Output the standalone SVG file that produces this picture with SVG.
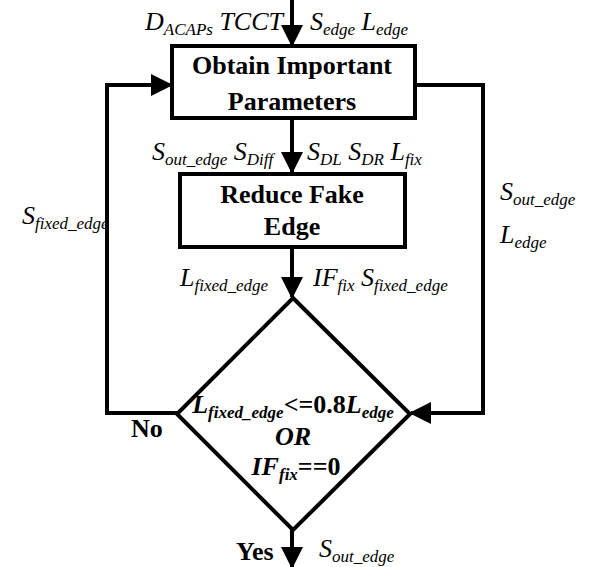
<svg xmlns="http://www.w3.org/2000/svg" width="590" height="567" viewBox="0 0 590 567" font-family="Liberation Serif, serif" style="font-family:'Liberation Serif',serif">
<style>
svg text, svg tspan{font-family:"Liberation Serif","Times New Roman",serif !important}
.ln{fill:none;stroke:#000;stroke-width:4}
.bx{fill:#fff;stroke:#000;stroke-width:4}
.it{font-style:italic;font-size:26px}
.b{font-weight:bold;font-size:26px}
.bi{font-weight:bold;font-style:italic;font-size:26px}
.s{font-size:17px}
</style>
<defs>
<marker id="ah" markerUnits="userSpaceOnUse" markerWidth="22" markerHeight="22" refX="20" refY="11" orient="auto" viewBox="0 0 22 22">
<path d="M0,0 L22,11 L0,22 z" fill="#000"/>
</marker>
</defs>
<rect width="590" height="567" fill="#fff"/>
<g id="connectors">
<line class="ln" x1="292" y1="0" x2="292" y2="45" marker-end="url(#ah)"/>
<line class="ln" x1="292" y1="118" x2="292" y2="172" marker-end="url(#ah)"/>
<line class="ln" x1="292" y1="247" x2="292" y2="297" marker-end="url(#ah)"/>
<line class="ln" x1="292" y1="530" x2="292" y2="567" marker-end="url(#ah)"/>
<polyline class="ln" points="177,413 107,413 107,85 171,85" marker-end="url(#ah)"/>
<polyline class="ln" points="415,85 483,85 483,413 411,413" marker-end="url(#ah)"/>
</g>
<g id="node-obtain">
<rect class="bx" x="172" y="46" width="243" height="72"/>
<text class="b" x="292" y="74" text-anchor="middle">Obtain Important</text>
<text class="b" x="292" y="110" text-anchor="middle">Parameters</text>
</g>
<g id="node-reduce">
<rect class="bx" x="180" y="174" width="225" height="73"/>
<text class="b" x="292" y="203" text-anchor="middle">Reduce Fake</text>
<text class="b" x="292" y="235" text-anchor="middle">Edge</text>
</g>
<g id="node-decision">
<polygon class="bx" points="293,298 410,414 293,530 177,414"/>
<text class="bi" x="293" y="413" text-anchor="middle">L<tspan class="s" dy="5">fixed_edge</tspan><tspan font-style="normal" dy="-5">&lt;=0.8</tspan>L<tspan class="s" dy="5">edge</tspan></text>
<text class="bi" x="293" y="445" text-anchor="middle">OR</text>
<text class="bi" x="296" y="475" text-anchor="middle">IF<tspan class="s" dy="5">fix</tspan><tspan font-style="normal" dy="-5">==0</tspan></text>
</g>
<g id="labels">
<text class="it" x="145" y="30">D<tspan class="s" dy="5">ACAPs</tspan><tspan dy="-5"> TCCT</tspan></text>
<text class="it" x="310" y="30">S<tspan class="s" dy="5">edge</tspan><tspan dy="-5"> L</tspan><tspan class="s" dy="5">edge</tspan></text>
<text class="it" x="152" y="160">S<tspan class="s" dy="5">out_edge</tspan><tspan dy="-5"> S</tspan><tspan class="s" dy="5">Diff</tspan></text>
<text class="it" x="307" y="160">S<tspan class="s" dy="5">DL</tspan><tspan dy="-5"> S</tspan><tspan class="s" dy="5">DR</tspan><tspan dy="-5"> L</tspan><tspan class="s" dy="5">fix</tspan></text>
<text class="it" x="180" y="286">L<tspan class="s" dy="5">fixed_edge</tspan></text>
<text class="it" x="313" y="286">IF<tspan class="s" dy="5">fix</tspan><tspan dy="-5"> S</tspan><tspan class="s" dy="5">fixed_edge</tspan></text>
<text class="it" x="22" y="224">S<tspan class="s" dy="5">fixed_edge</tspan></text>
<text class="it" x="500" y="200">S<tspan class="s" dy="5">out_edge</tspan></text>
<text class="it" x="500" y="243">L<tspan class="s" dy="5">edge</tspan></text>
<text class="b" x="131" y="437">No</text>
<text class="b" x="236" y="560">Yes</text>
<text class="it" x="319" y="557">S<tspan class="s" dy="5">out_edge</tspan></text>
</g>
</svg>
